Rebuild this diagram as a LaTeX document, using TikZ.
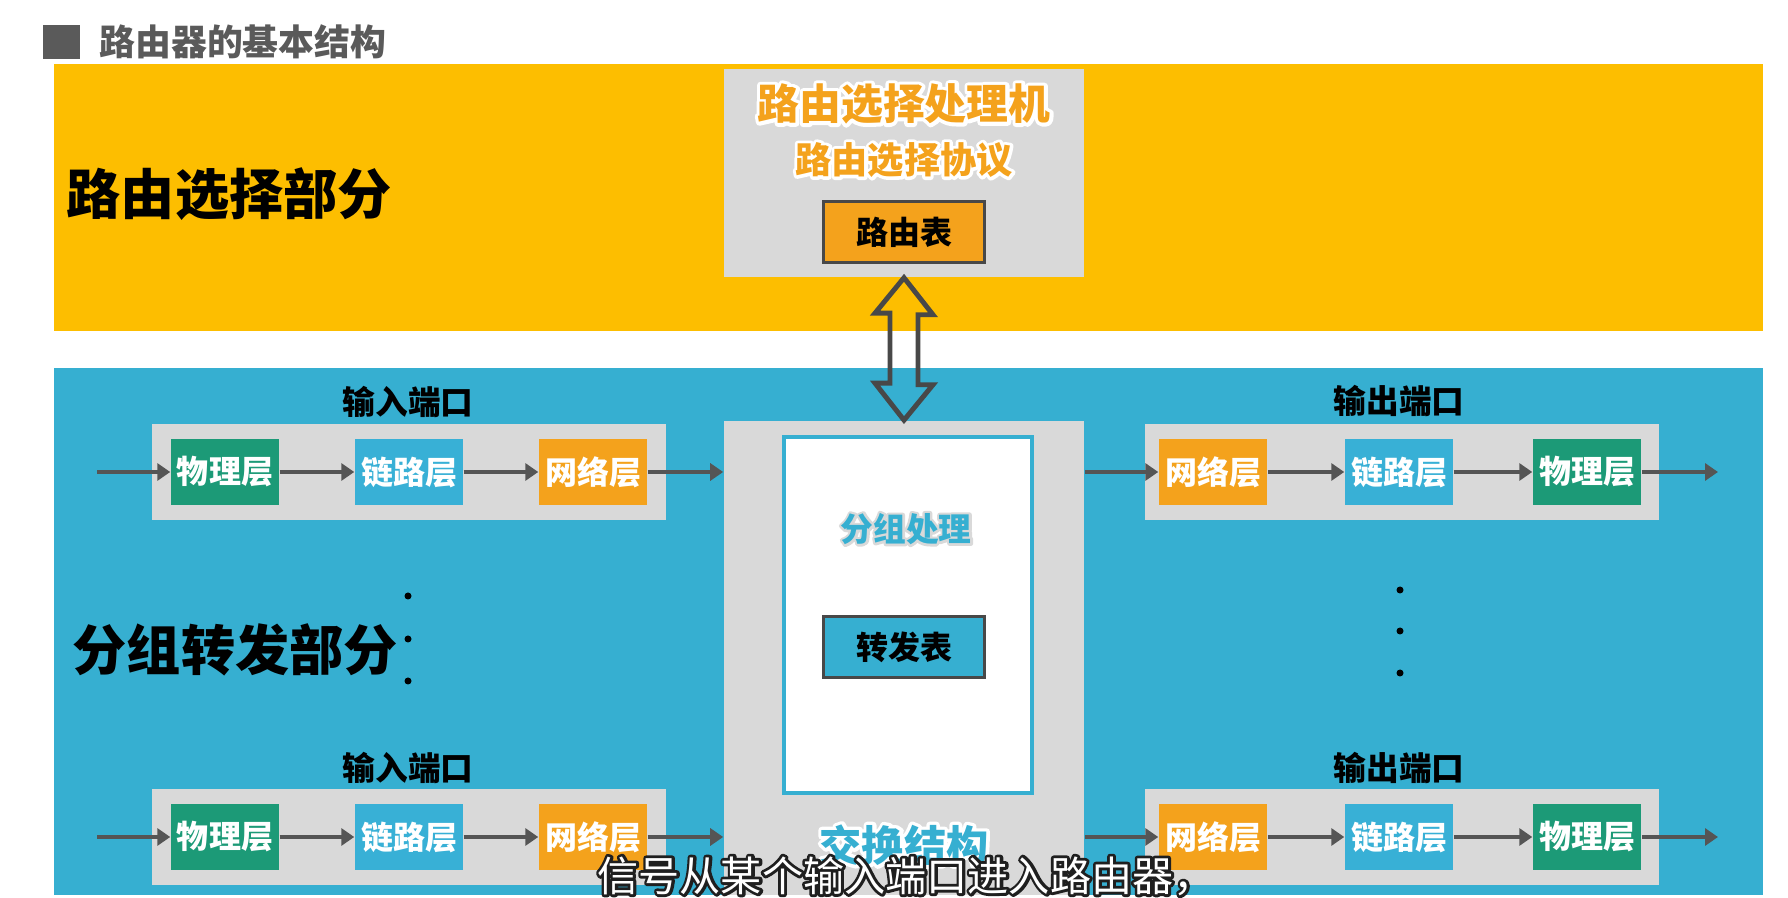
\documentclass[tikz,border=0pt]{standalone}
\usepackage{fontspec}
\setmainfont{Noto Sans CJK SC}
\usetikzlibrary{arrows.meta, positioning}
\definecolor{clrRoute}{HTML}{FDBE00}
\definecolor{clrFwd}{HTML}{36AFD1}
\definecolor{clrPanel}{HTML}{D9D9D9}
\definecolor{clrPhy}{HTML}{1C9A77}
\definecolor{clrLink}{HTML}{38B0D6}
\definecolor{clrNet}{HTML}{F4A21C}
\definecolor{clrLine}{HTML}{555555}
\definecolor{clrEdge}{HTML}{484848}
\definecolor{clrTitle}{HTML}{5A5A5A}
% haloed text: #1 halo colour (rgb), #2 halo stroke width, #3 text
\newcommand\haloed[3]{\rlap{\special{pdf:literal direct #1 RG #2 w 1 j 1 Tr}#3\special{pdf:literal direct 0 Tr}}#3}
\tikzset{
  region/.style = {rectangle, inner sep=0pt, draw=none},
  panel/.style = {rectangle, inner sep=0pt, fill=clrPanel},
  layer/.style = {rectangle, inner sep=0pt, minimum width=1.08cm, minimum height=0.66cm,
                  text=white, font=\bfseries\fontsize{9.1}{10}\selectfont},
  tblbox/.style = {rectangle, inner sep=0pt, minimum width=1.60cm, minimum height=0.60cm,
                   draw=clrEdge, line width=0.85pt, font=\bfseries\fontsize{9.1}{10}\selectfont},
  port/.style = {inner sep=0pt, font=\bfseries\fontsize{9.3}{10}\selectfont},
  part/.style = {inner sep=0pt, anchor=west, font=\bfseries\fontsize{15.4}{16}\selectfont},
  arrow/.style = {-{Triangle[length=0.13cm, width=0.17cm]}, line width=1.1pt, color=clrLine},
  dblarrow/.style = {line width=1.4pt, color=clrEdge, line join=miter},
  dot/.style = {circle, fill=black, inner sep=0pt, minimum size=0.07cm},
}

\begin{document}
\begin{tikzpicture}[x=0.01cm, y=-0.01cm]
  \useasboundingbox (0,0) rectangle (1788,898);
  \fill[white] (0,0) rectangle (1788,898);

  % row heights and column centres (pixels)
  \def\yRowA{472}
  \def\yRowB{837}
  \def\colMid{904}
  \def\colIn{409}
  \def\colOut{1402}

  % --- Title ---
  \node[rectangle, fill=clrTitle, minimum width=0.37cm, minimum height=0.34cm, inner sep=0pt]
    at (61.5,42) (titlemark) {};
  \node[right=0.18cm of titlemark, inner sep=0pt, text=clrTitle,
        font=\bfseries\fontsize{10.2}{11}\selectfont] (title) {路由器的基本结构};

  % --- Regions ---
  \node[region, fill=clrRoute, minimum width=17.08cm, minimum height=2.67cm]
    at (908,197.5) (routing) {};
  \node[region, fill=clrFwd, minimum width=17.08cm, minimum height=5.27cm]
    at (908,631.5) (forwarding) {};
  \node[part] at (66,194) (routepart) {路由选择部分};
  \node[part] at (72,650) (fwdpart) {分组转发部分};

  % --- Routing processor ---
  \node[panel, minimum width=3.60cm, minimum height=2.08cm] at (\colMid,173) (RP) {};
  \node[text=clrNet, font=\bfseries\fontsize{11.9}{12}\selectfont, inner sep=0pt]
    at (\colMid,104) (RPname) {\haloed{1 1 1}{2}{路由选择处理机}};
  \node[text=clrNet, font=\bfseries\fontsize{10.3}{11}\selectfont, inner sep=0pt]
    at (\colMid,160) (RPproto) {\haloed{1 1 1}{1.8}{路由选择协议}};
  \node[tblbox, fill=clrNet] at (\colMid,232) (RT) {路由表};

  % --- Switch fabric ---
  \node[panel, minimum width=3.60cm, minimum height=4.74cm] at (\colMid,658) (SW) {};
  \node[rectangle, fill=white, draw=clrFwd, line width=1.1pt, inner sep=0pt,
        minimum width=2.48cm, minimum height=3.56cm] at (908,615) (proc) {};
  \node[text=clrFwd, font=\bfseries\fontsize{9.3}{10}\selectfont, inner sep=0pt]
    at (906,529) (procname) {\haloed{0.85 0.85 0.85}{1.4}{分组处理}};
  \node[tblbox, fill=clrFwd] at (\colMid,647) (FT) {转发表};
  \node[text=clrFwd, font=\bfseries\fontsize{12}{13}\selectfont, inner sep=0pt]
    at (\colMid,845) (SWname) {\haloed{1 1 1}{2}{交换结构}};

  % Routing <-> switching
  \draw[dblarrow] (RP.south) -- ++(29,37) -- ++(-15,0) -- ++(0,70) -- ++(15,0)
    -- (SW.north) -- ++(-29,-37) -- ++(15,0) -- ++(0,-70) -- ++(-15,0) -- cycle;

  % --- Input ports ---
  % Row 1
  \node[port] at (408,402) (inLabA) {输入端口};
  \node[panel, minimum width=5.14cm, minimum height=0.95cm] at (\colIn,\yRowA) (inPortA) {};
  \node[layer, fill=clrPhy]  at (225,\yRowA) (IPa) {物理层};
  \node[layer, fill=clrLink] at (409,\yRowA) (ILa) {链路层};
  \node[layer, fill=clrNet]  at (593,\yRowA) (INa) {网络层};
  \coordinate (inA) at (97,\yRowA);
  \draw[arrow] (inA) -- (IPa.west);
  \draw[arrow] (IPa.east) -- (ILa.west);
  \draw[arrow] (ILa.east) -- (INa.west);
  \draw[arrow] (INa.east) -- (INa.east -| SW.west);

  % Row 2
  \node[port] at (408,768) (inLabB) {输入端口};
  \node[panel, minimum width=5.14cm, minimum height=0.95cm] at (\colIn,\yRowB) (inPortB) {};
  \node[layer, fill=clrPhy]  at (225,\yRowB) (IPb) {物理层};
  \node[layer, fill=clrLink] at (409,\yRowB) (ILb) {链路层};
  \node[layer, fill=clrNet]  at (593,\yRowB) (INb) {网络层};
  \coordinate (inB) at (97,\yRowB);
  \draw[arrow] (inB) -- (IPb.west);
  \draw[arrow] (IPb.east) -- (ILb.west);
  \draw[arrow] (ILb.east) -- (INb.west);
  \draw[arrow] (INb.east) -- (INb.east -| SW.west);

  % dots between input ports
  \foreach \y in {596,639,681} {
    \node[dot] at (408,\y) {};
  }

  % --- Output ports ---
  % Row 1
  \node[port] at (1399,401) (outLabA) {输出端口};
  \node[panel, minimum width=5.13cm, minimum height=0.95cm] at (\colOut,\yRowA) (outPortA) {};
  \node[layer, fill=clrNet]  at (1213,\yRowA) (ONa) {网络层};
  \node[layer, fill=clrLink] at (1399,\yRowA) (OLa) {链路层};
  \node[layer, fill=clrPhy]  at (1587,\yRowA) (OPa) {物理层};
  \coordinate (outA) at (1718,\yRowA);
  \draw[arrow] (SW.east |- ONa.west) -- (ONa.west);
  \draw[arrow] (ONa.east) -- (OLa.west);
  \draw[arrow] (OLa.east) -- (OPa.west);
  \draw[arrow] (OPa.east) -- (outA);

  % Row 2
  \node[port] at (1399,768) (outLabB) {输出端口};
  \node[panel, minimum width=5.13cm, minimum height=0.95cm] at (\colOut,\yRowB) (outPortB) {};
  \node[layer, fill=clrNet]  at (1213,\yRowB) (ONb) {网络层};
  \node[layer, fill=clrLink] at (1399,\yRowB) (OLb) {链路层};
  \node[layer, fill=clrPhy]  at (1587,\yRowB) (OPb) {物理层};
  \coordinate (outB) at (1718,\yRowB);
  \draw[arrow] (SW.east |- ONb.west) -- (ONb.west);
  \draw[arrow] (ONb.east) -- (OLb.west);
  \draw[arrow] (OLb.east) -- (OPb.west);
  \draw[arrow] (OPb.east) -- (outB);

  % dots between output ports
  \foreach \y in {590,631,673} {
    \node[dot] at (1400,\y) {};
  }

  % --- Subtitle ---
  \node[text=white, inner sep=0pt, font=\fontsize{11.7}{13}\selectfont]
    at (906,876) (subtitle) {\haloed{0.12 0.12 0.12}{1.6}{信号从某个输入端口进入路由器，}};
\end{tikzpicture}
\end{document}
